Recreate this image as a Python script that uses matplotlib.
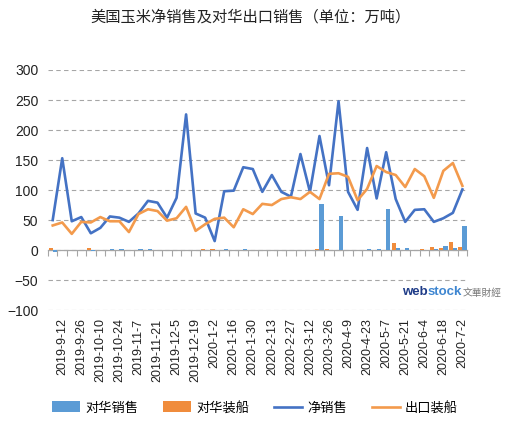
import matplotlib
matplotlib.use("Agg")
import matplotlib.pyplot as plt
import numpy as np

plt.rcParams['font.family'] = ['Liberation Sans', 'Noto Sans CJK SC', 'DejaVu Sans']

# weekly dates, 2019-9-5 .. 2020-7-2 (every 2nd one is labelled)
dates = ["2019-9-5", "2019-9-12", "2019-9-19", "2019-9-26", "2019-10-3", "2019-10-10",
         "2019-10-17", "2019-10-24", "2019-10-31", "2019-11-7", "2019-11-14", "2019-11-21",
         "2019-11-28", "2019-12-5", "2019-12-12", "2019-12-19", "2019-12-26", "2020-1-2",
         "2020-1-9", "2020-1-16", "2020-1-23", "2020-1-30", "2020-2-6", "2020-2-13",
         "2020-2-20", "2020-2-27", "2020-3-5", "2020-3-12", "2020-3-19", "2020-3-26",
         "2020-4-2", "2020-4-9", "2020-4-16", "2020-4-23", "2020-4-30", "2020-5-7",
         "2020-5-14", "2020-5-21", "2020-5-28", "2020-6-4", "2020-6-11", "2020-6-18",
         "2020-6-25", "2020-7-2"]

net_sales = [50, 153, 48, 55, 28, 37, 56, 54, 47, 61, 82, 79, 54, 87, 226, 61, 54, 15,
             98, 99, 138, 135, 97, 125, 97, 89, 160, 97, 190, 108, 248, 97, 67, 170,
             86, 163, 85, 47, 67, 68, 47, 53, 62, 101]
export_ship = [41, 46, 27, 47, 46, 55, 48, 48, 30, 60, 68, 65, 49, 53, 72, 32, 43, 52,
               54, 38, 68, 60, 77, 75, 85, 88, 85, 97, 85, 127, 128, 122, 83, 102,
               140, 130, 125, 105, 135, 123, 87, 132, 145, 107]
china_sales = [-3, 0, 0, 0, -2, 0, 2, 2, 0, 2, 1, 0, 0, 0, 0, 0, 0, 0,
               2, 0, 2, 0, 0, 0, 0, 0, 0, 0, 77, 0, 57, 0, 0, 2,
               2, 68, 3, 3, 0, 0, 2, 7, 3, 40]
china_ship = [4, 0, 0, 0, 4, 0, 0, 0, 0, 0, 0, 0, 0, 0, 0, 0, 1, 1,
              0, 0, 0, 0, 0, 0, 0, 0, 0, 0, 1, 1, 0, 0, 0, 0,
              0, 0, 12, 0, 0, 1, 5, 4, 13, 5]

x = np.arange(len(dates))

fig = plt.figure(figsize=(5.1, 4.43), dpi=100)
ax = fig.add_axes([0.094, 0.300, 0.822, 0.542])

w = 0.44
b_ship = ax.bar(x - w / 2, china_ship, width=w, color='#F08C3C', zorder=2)
b_sales = ax.bar(x + w / 2, china_sales, width=w, color='#5B9BD5', zorder=2)
l_net, = ax.plot(x, net_sales, color='#4472C4', lw=1.9, zorder=3)
l_exp, = ax.plot(x, export_ship, color='#F39A4C', lw=1.9, zorder=3)

ax.set_xlim(-0.5, len(dates) - 0.5)
ax.set_ylim(-100, 300)
ax.set_yticks(np.arange(-100, 301, 50))
ax.yaxis.grid(True, linestyle=(0, (4, 3)), color='#A6A6A6', lw=0.8, zorder=0)
for s in ax.spines.values():
    s.set_visible(False)
ax.tick_params(axis='y', length=0, pad=7, labelsize=10, labelcolor='#222222')

ax.set_xticks(x[1::2])
ax.set_xticklabels(dates[1::2], rotation=90)
ax.tick_params(axis='x', length=0, pad=6, labelsize=9, labelcolor='#222222')

# category axis line at zero with boundary ticks
zax = ax.secondary_xaxis(0.25)
zax.set_xticks(np.arange(-0.5, len(dates), 1.0))
zax.set_xticklabels([])
zax.tick_params(axis='x', direction='out', length=4, color='#A6A6A6', width=0.8)
zax.spines['bottom'].set_color('#A6A6A6')
zax.spines['bottom'].set_linewidth(0.9)

fig.text(0.492, 0.962, '美国玉米净销售及对华出口销售（单位：万吨）', ha='center', va='center',
         fontsize=11, color='#222222')

fig.legend([b_sales, b_ship, l_net, l_exp], ['对华销售', '对华装船', '净销售', '出口装船'],
           loc='center', bbox_to_anchor=(0.5, 0.079), ncol=4, frameon=False, fontsize=9.5,
           handlelength=2.1, handleheight=0.9, columnspacing=1.9, handletextpad=0.4)

# watermark
fig.text(0.788, 0.341, 'web', color='#1F3C88', fontsize=9.5, fontweight='bold',
         ha='left', va='center')
fig.text(0.838, 0.341, 'stock', color='#3E86D1', fontsize=9.5, fontweight='bold',
         ha='left', va='center')
fig.text(0.907, 0.338, '文華財經', color='#777777', fontsize=7, ha='left', va='center')

fig.savefig('out.png', dpi=100)
